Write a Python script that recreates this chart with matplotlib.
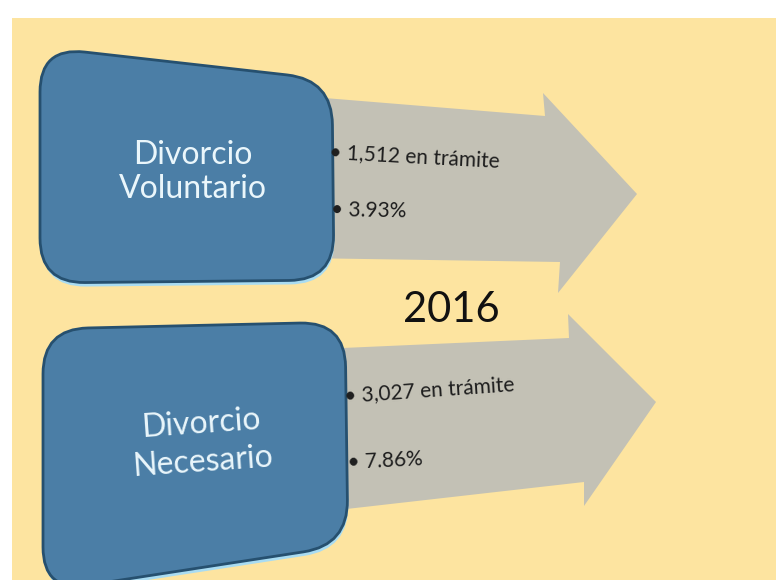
import matplotlib.pyplot as plt
import numpy as np
from matplotlib.path import Path
from matplotlib.patches import PathPatch, Polygon, Rectangle

# diagram content
year = "2016"
categories = [["Divorcio", "Voluntario"], ["Divorcio", "Necesario"]]
in_process = ["1,512", "3,027"]
percentages = ["3.93%", "7.86%"]

BG = "#fde4a0"
BOX = "#4b7ea6"
BOX_EDGE = "#26506f"
GLOW = "#a9dcf2"
ARROW = "#c3c1b5"
FONT = ["Lato", "DejaVu Sans"]

# geometry in pixel units (y downwards)
boxes = [
    [(40, 47), (332, 80), (334, 280), (40, 283)],
    [(43, 329), (345, 322), (348, 545), (43, 592)],
]
arrows = [
    [(300, 96), (545, 116), (543, 93), (637, 194), (558, 293), (560, 262), (300, 258)],
    [(320, 349), (569, 338), (568, 314), (656, 402), (584, 506), (584, 482), (320, 512)],
]
label_pos = [[(193, 155, 0), (193, 189, 0)], [(201, 424, 4), (203, 462, 4)]]
bullet_pos = [[(329, 152, -3), (331, 210, -1)], [(344, 396, 4), (348, 463, 3)]]


def rounded_path(pts, r):
    pts = np.array(pts, dtype=float)
    n = len(pts)
    verts, codes = [], []
    for i in range(n):
        p = pts[i]
        a = pts[i - 1]
        b = pts[(i + 1) % n]
        pin = p + (a - p) * r / np.hypot(*(a - p))
        pout = p + (b - p) * r / np.hypot(*(b - p))
        verts += [pin, p, pout]
        codes += [Path.MOVETO if i == 0 else Path.LINETO, Path.CURVE3, Path.CURVE3]
    verts.append(verts[0])
    codes.append(Path.CLOSEPOLY)
    return Path(verts, codes)


fig = plt.figure(figsize=(7.76, 5.80), dpi=100, facecolor="white")
ax = fig.add_axes([0, 0, 1, 1])
ax.set_xlim(0, 776)
ax.set_ylim(580, 0)
ax.axis("off")

ax.add_patch(Rectangle((12, 18), 776, 580, facecolor=BG, edgecolor="none", zorder=0))

for arr in arrows:
    ax.add_patch(Polygon(arr, closed=True, facecolor=ARROW, edgecolor="none", zorder=1))

for box in boxes:
    shifted = [(x + 1, y + 4) for x, y in box]
    ax.add_patch(PathPatch(rounded_path(shifted, 45), facecolor=GLOW,
                           edgecolor="none", zorder=2))
    ax.add_patch(PathPatch(rounded_path(box, 45), facecolor=BOX,
                           edgecolor=BOX_EDGE, linewidth=2, zorder=3))

for lines, pos in zip(categories, label_pos):
    for txt, (x, y, rot) in zip(lines, pos):
        ax.text(x, y, txt, ha="center", va="center", rotation=rot,
                fontsize=23, color="#eaf6fb", family=FONT, zorder=4)

for i, pos in enumerate(bullet_pos):
    items = [f"\u2022 {in_process[i]} en trámite", f"\u2022 {percentages[i]}"]
    for txt, (x, y, rot) in zip(items, pos):
        ax.text(x, y, txt, ha="left", va="center", rotation=rot,
                rotation_mode="anchor", fontsize=15, color="#1e1e1e",
                family=FONT, zorder=4)

ax.text(451, 310, year, ha="center", va="center", fontsize=30,
        color="#111111", family=FONT, zorder=4)

fig.savefig("out.png", dpi=100, facecolor="white")
